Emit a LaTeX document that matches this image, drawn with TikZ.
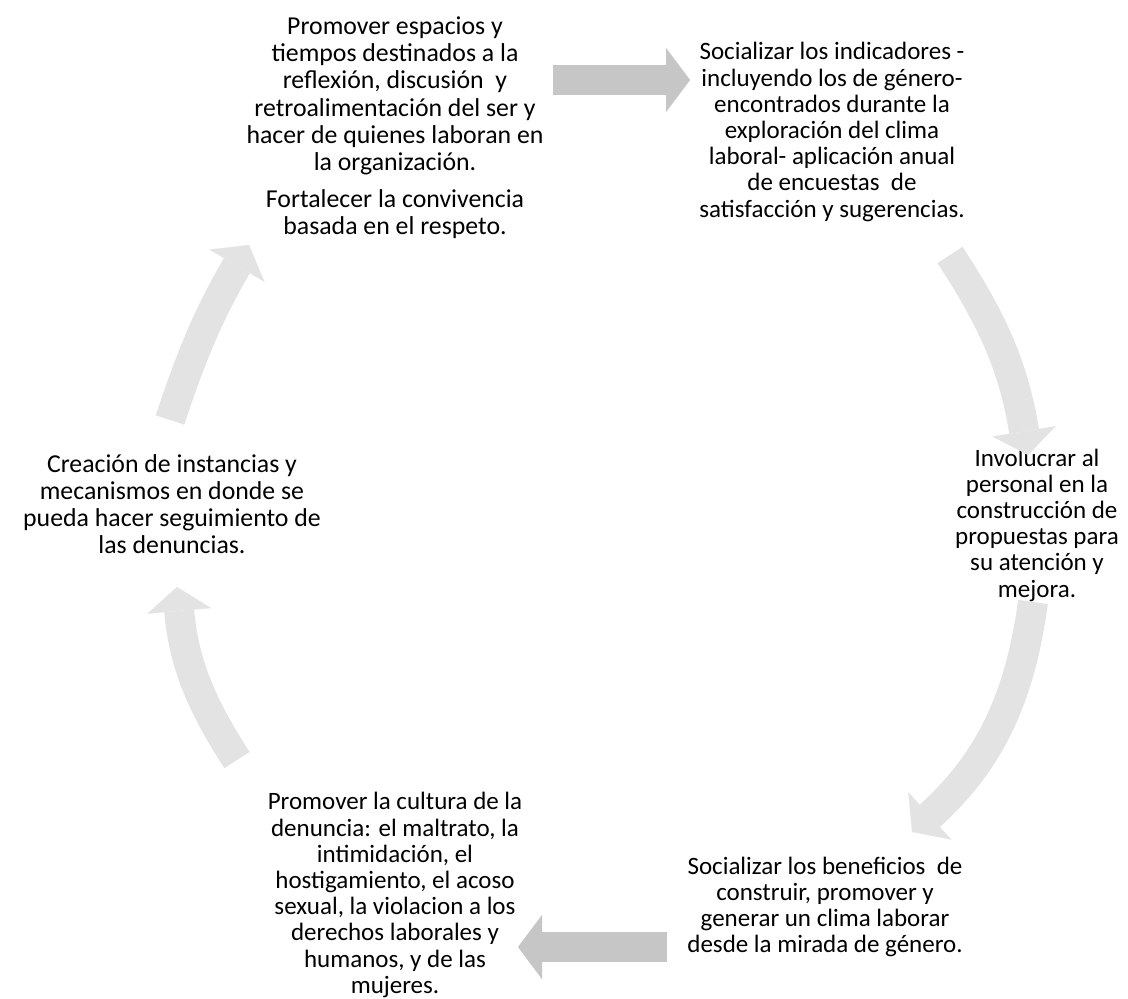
\documentclass[tikz,border=0pt]{standalone}
\usepackage{fontspec}
\setmainfont{Carlito}
\usetikzlibrary{arrows.meta}

\begin{document}
\begin{tikzpicture}[x=0.5pt,y=-0.5pt,
    txt/.style={align=center,inner sep=0pt,font=\fontsize{12.5}{13.1}\selectfont},
    txtg/.style={txt,font=\fontsize{12.9}{13.6}\selectfont},
    flecha/.style={line width=15pt,draw=gray!22,
        -{Triangle[width=32pt 0,length=12pt 0,line width=0.1pt 0]}},
    flechah/.style={flecha,draw=gray!45}]
\useasboundingbox (0,0) rectangle (1128,999);

%textos del ciclo
\node[txtg] (espacios) at (395,128) {Promover espacios y\\ tiempos destinados a la\\ reflexión, discusión~ y\\ retroalimentación del ser y\\ hacer de quienes laboran en\\ la organización.\\[5pt] Fortalecer la convivencia\\ basada en el respeto.};
\node[txt] (indicadores) at (832,132) {Socializar los indicadores -\\ incluyendo los de género-\\ encontrados durante la\\ exploración del clima\\ laboral- aplicación anual\\ de encuestas~ de\\ satisfacción y sugerencias.};
\node[txt] (involucrar) at (1037,525) {Involucrar al\\ personal en la\\ construcción de\\ propuestas para\\ su atención y\\ mejora.};
\node[txt] (beneficios) at (825,907) {Socializar los beneficios~ de\\ construir, promover y\\ generar un clima laborar\\ desde la mirada de género.};
\node[txt] (cultura) at (395,895) {Promover la cultura de la\\ denuncia: el maltrato, la\\ intimidación, el\\ hostigamiento, el acoso\\ sexual, la violacion a los\\ derechos laborales y\\ humanos, y de las\\ mujeres.};
\node[txtg] (instancias) at (172,504) {Creación de instancias y\\ mecanismos en donde se\\ pueda hacer seguimiento de\\ las denuncias.};

%puntas de las flechas
\coordinate (f1a) at (553,80);   \coordinate (f1b) at (690,80);
\coordinate (f2a) at (950,255);  \coordinate (f2b) at (1028,455);
\coordinate (f3a) at (1033,602); \coordinate (f3b) at (912,832);
\coordinate (f4a) at (667,947);  \coordinate (f4b) at (518,947);
\coordinate (f5a) at (237,760);  \coordinate (f5b) at (177,587);
\coordinate (f6a) at (170,420);  \coordinate (f6b) at (249,245);

\draw [flechah] (f1a) -- (f1b);
\draw [flecha] (f2a) to[bend left=12] (f2b);
\draw [flecha] (f3a) to[bend left=20] (f3b);
\draw [flechah] (f4a) -- (f4b);
\draw [flecha] (f5a) to[bend left=14] (f5b);
\draw [flecha] (f6a) to[bend left=6] (f6b);
\end{tikzpicture}
\end{document}
